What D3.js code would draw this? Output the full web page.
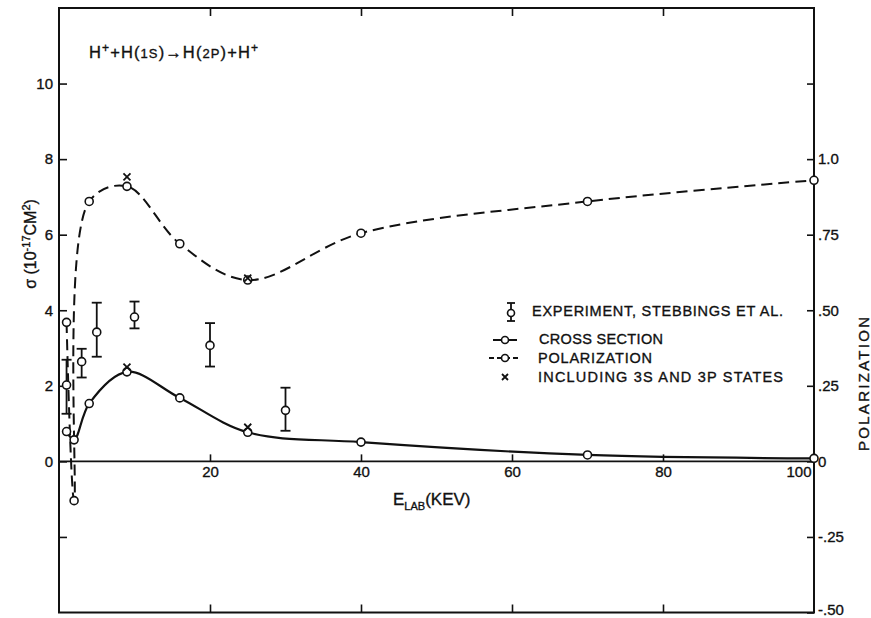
<!DOCTYPE html>
<html>
<head>
<meta charset="utf-8">
<script src="https://cdn.jsdelivr.net/npm/d3@7"></script>
<style>
  html, body { margin: 0; padding: 0; background: #fff; }
  svg { display: block; }
  text { font-family: "Liberation Sans", Arial, sans-serif; fill: #111; stroke: #111; stroke-width: 0.35px; }
</style>
</head>
<body>
<svg id="chart" width="871" height="618"></svg>
<script>
// ---------------- data ----------------
const energies = [1, 2, 4, 9, 16, 25, 40, 70, 100];                 // E_LAB (keV)
const crossSection = [0.79, 0.57, 1.53, 2.37, 1.68, 0.77, 0.51, 0.17, 0.08]; // sigma (1e-17 cm^2)
const polarization = [0.46, -0.13, 0.86, 0.91, 0.72, 0.60, 0.755, 0.86, 0.93];

const expEnergy = [1, 3, 5, 10, 20, 30];
const expValue  = [2.02, 2.64, 3.42, 3.82, 3.07, 1.35];
const expLow    = [1.26, 2.22, 2.77, 3.52, 2.51, 0.81];
const expHigh   = [2.69, 2.98, 4.20, 4.23, 3.66, 1.95];

const x3Energy = [9, 25];
const x3Cross  = [2.44, 0.85];
const x3Pol    = [0.935, 0.60];

const leftTicks   = [-2, 0, 2, 4, 6, 8, 10];
const leftLabels  = ["", "0", "2", "4", "6", "8", "10"];
const rightTicks  = [-0.5, -0.25, 0, 0.25, 0.5, 0.75, 1.0, 1.25];
const rightLabels = ["-.50", "-.25", "0", ".25", ".50", ".75", "1.0", ""];
const xTicks      = [20, 40, 60, 80, 100];
const xLabels     = ["20", "40", "60", "80", "100"];

const legendLabels = ["EXPERIMENT, STEBBINGS ET AL.", "CROSS SECTION", "POLARIZATION", "INCLUDING 3S AND 3P STATES"];

// ---------------- layout ----------------
const svg = d3.select("#chart");
const L = 59, R = 814, T = 8, B = 612.5;
const x  = d3.scaleLinear().domain([0, 100]).range([L, R]);
const yL = d3.scaleLinear().domain([-4, 12]).range([B, T]);
const yR = d3.scaleLinear().domain([-0.5, 1.5]).range([B, T]);
const ink = "#111";

// zero line
svg.append("line").attr("x1", L).attr("x2", R).attr("y1", yL(0)).attr("y2", yL(0))
  .attr("stroke", ink).attr("stroke-width", 1.8);

// axes
function styleAxis(g) {
  g.select(".domain").remove();
  g.selectAll(".tick line").attr("stroke", ink).attr("stroke-width", 1.6);
  g.selectAll(".tick text").attr("font-size", 15).attr("fill", ink)
    .attr("font-family", "Liberation Sans, Arial, sans-serif");
}
svg.append("g").attr("transform", `translate(${L},0)`)
  .call(d3.axisLeft(yL).tickValues(leftTicks).tickSizeInner(-8).tickSizeOuter(0).tickPadding(6)
    .tickFormat((d, i) => leftLabels[i]))
  .call(styleAxis);
const ra = svg.append("g").attr("transform", `translate(${R},0)`)
  .call(d3.axisRight(yR).tickValues(rightTicks).tickSizeInner(-7).tickSizeOuter(0).tickPadding(4)
    .tickFormat((d, i) => rightLabels[i]))
  .call(styleAxis);
ra.selectAll(".tick").filter(d => d === -0.5).select("text").attr("dy", "0.1em");
const xb = svg.append("g").attr("transform", `translate(0,${yL(0)})`)
  .call(d3.axisBottom(x).tickValues(xTicks).tickSizeInner(-7).tickSizeOuter(0).tickPadding(5)
    .tickFormat((d, i) => xLabels[i]))
  .call(styleAxis);
xb.selectAll(".tick").filter(d => d === 100).select("line").remove();
xb.selectAll(".tick").filter(d => d === 100).select("text").attr("text-anchor", "end").attr("x", -3);
svg.append("g").attr("transform", `translate(0,${B})`)
  .call(d3.axisTop(x).tickValues(xTicks.slice(0, 4)).tickSizeInner(8).tickSizeOuter(0).tickFormat(""))
  .call(styleAxis);
svg.append("g").attr("transform", `translate(0,${T})`)
  .call(d3.axisBottom(x).tickValues(xTicks.slice(0, 4)).tickSizeInner(8).tickSizeOuter(0).tickFormat(""))
  .call(styleAxis);

// frame
svg.append("rect").attr("x", L).attr("y", T).attr("width", R - L).attr("height", B - T)
  .attr("fill", "none").attr("stroke", ink).attr("stroke-width", 2);

// curves
const crossLine = d3.line().x((d, i) => x(energies[i])).y(d => yL(d)).curve(d3.curveCatmullRom.alpha(0.5));
const polLine = d3.line().x((d, i) => x(energies[i])).y(d => yR(d)).curve(d3.curveCatmullRom.alpha(0.5));
svg.append("path").attr("d", crossLine(crossSection)).attr("fill", "none")
  .attr("stroke", ink).attr("stroke-width", 2.2);
svg.append("path").attr("d", polLine(polarization)).attr("fill", "none")
  .attr("stroke", ink).attr("stroke-width", 2).attr("stroke-dasharray", "11,6");

// experiment error bars
const cap = 5;
expEnergy.forEach((e, i) => {
  const g = svg.append("g");
  g.append("line").attr("x1", x(e)).attr("x2", x(e)).attr("y1", yL(expLow[i])).attr("y2", yL(expHigh[i]))
    .attr("stroke", ink).attr("stroke-width", 1.8);
  [expLow[i], expHigh[i]].forEach(v => g.append("line")
    .attr("x1", x(e) - cap).attr("x2", x(e) + cap).attr("y1", yL(v)).attr("y2", yL(v))
    .attr("stroke", ink).attr("stroke-width", 1.8));
});

// circle markers
function circles(xs, ys, sc) {
  svg.append("g").selectAll("circle").data(xs).join("circle")
    .attr("cx", d => x(d)).attr("cy", (d, i) => sc(ys[i])).attr("r", 4)
    .attr("fill", "#fff").attr("stroke", ink).attr("stroke-width", 1.6);
}
circles(energies, crossSection, yL);
circles(energies, polarization, yR);
circles(expEnergy, expValue, yL);

// x markers
function xmark(cx, cy, s) {
  svg.append("path").attr("d", `M${cx - s},${cy - s}L${cx + s},${cy + s}M${cx + s},${cy - s}L${cx - s},${cy + s}`)
    .attr("stroke", ink).attr("stroke-width", 1.8).attr("fill", "none");
}
x3Energy.forEach((e, i) => {
  xmark(x(e), yL(x3Cross[i]) - 2, 3.5);
  xmark(x(e), yR(x3Pol[i]) - 2, 3.5);
});

// legend
const lg = svg.append("g");
lg.append("line").attr("x1", 511).attr("x2", 511).attr("y1", 303).attr("y2", 321).attr("stroke", ink).attr("stroke-width", 1.8);
[303, 321].forEach(yy => lg.append("line").attr("x1", 507).attr("x2", 515).attr("y1", yy).attr("y2", yy).attr("stroke", ink).attr("stroke-width", 1.8));
lg.append("circle").attr("cx", 511).attr("cy", 313).attr("r", 3.5).attr("fill", "#fff").attr("stroke", ink).attr("stroke-width", 1.6);
lg.append("line").attr("x1", 493).attr("x2", 517).attr("y1", 340).attr("y2", 340).attr("stroke", ink).attr("stroke-width", 2);
lg.append("circle").attr("cx", 505).attr("cy", 340).attr("r", 3.5).attr("fill", "#fff").attr("stroke", ink).attr("stroke-width", 1.6);
lg.append("line").attr("x1", 489).attr("x2", 518).attr("y1", 358).attr("y2", 358).attr("stroke", ink).attr("stroke-width", 2).attr("stroke-dasharray", "5,3");
lg.append("circle").attr("cx", 505).attr("cy", 358).attr("r", 3.5).attr("fill", "#fff").attr("stroke", ink).attr("stroke-width", 1.6);
xmark(505, 377, 3);

const legX = [532, 539, 538, 538];
const legY = [316, 344, 363, 382];
const legW = [251, 124, 114, 245];
legendLabels.forEach((t, i) => {
  lg.append("text").attr("x", legX[i]).attr("y", legY[i]).attr("font-size", 14.5)
    .attr("textLength", legW[i]).attr("lengthAdjust", "spacing").text(t);
});

// title
const title = svg.append("text").attr("x", 89).attr("y", 58).attr("font-size", 16.5)
  .attr("textLength", 169).attr("lengthAdjust", "spacing");
title.append("tspan").text("H");
title.append("tspan").attr("dy", -6).attr("font-size", 12).text("+");
title.append("tspan").attr("dy", 6).text("+H(");
title.append("tspan").attr("font-size", 13).text("1S");
title.append("tspan").text(")\u2192H(");
title.append("tspan").attr("font-size", 13).text("2P");
title.append("tspan").text(")+H");
title.append("tspan").attr("dy", -6).attr("font-size", 12).text("+");

// axis titles
const yt = svg.append("text").attr("transform", "translate(36,244) rotate(-90)")
  .attr("text-anchor", "middle").attr("font-size", 16);
yt.append("tspan").text("\u03c3 (10");
yt.append("tspan").attr("dy", -6).attr("font-size", 11).text("-17");
yt.append("tspan").attr("dy", 6).text("CM");
yt.append("tspan").attr("dy", -6).attr("font-size", 11).text("2");
yt.append("tspan").attr("dy", 6).text(")");

svg.append("text").attr("transform", "translate(869,384) rotate(-90)")
  .attr("text-anchor", "middle").attr("font-size", 15).attr("textLength", 134)
  .attr("lengthAdjust", "spacing").text("POLARIZATION");

const xt = svg.append("text").attr("x", 393).attr("y", 505).attr("font-size", 17);
xt.append("tspan").text("E");
xt.append("tspan").attr("dy", 5).attr("font-size", 11).text("LAB");
xt.append("tspan").attr("dy", -5).text("(KEV)");
</script>
</body>
</html>
